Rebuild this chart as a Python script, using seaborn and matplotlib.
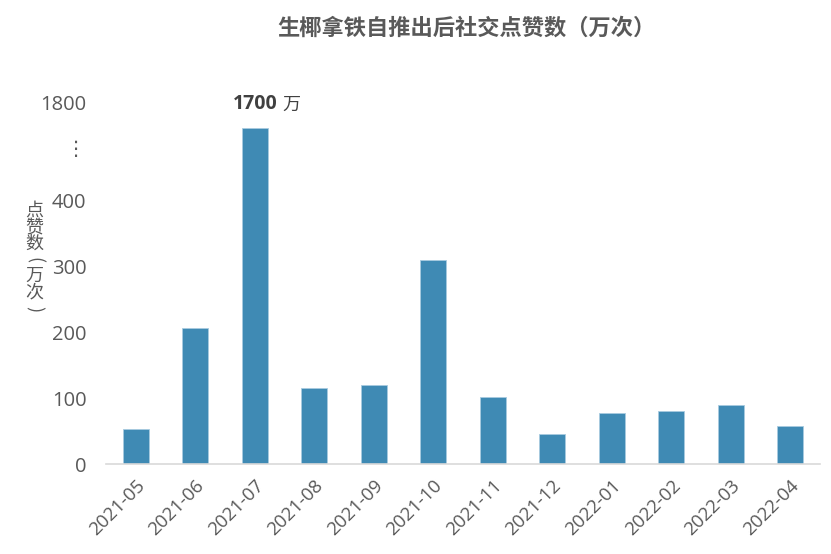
import numpy as np
import pandas as pd
import matplotlib
matplotlib.use("Agg")
import matplotlib.pyplot as plt
import seaborn as sns

months = ["2021-05", "2021-06", "2021-07", "2021-08", "2021-09", "2021-10",
          "2021-11", "2021-12", "2022-01", "2022-02", "2022-03", "2022-04"]
likes = [53, 206, 1700, 115, 120, 309, 101, 45, 77, 80, 89, 58]
peak_label = "1700"

y_ticks = [0, 100, 200, 300, 400, 1354, 1800]
y_ticklabels = ["0", "100", "200", "300", "400", "⋮", "1800"]
ylabel_chars = ["点", "赞", "数", "(", "万", "次", ")"]

# broken axis: 0-400 linear, above that compressed
brk_data = [0, 400, 1700, 1800]
brk_disp = [0, 400, 509, 547]


def fwd(v):
    return np.interp(v, brk_data, brk_disp)


def inv(v):
    return np.interp(v, brk_disp, brk_data)


df = pd.DataFrame({"month": months, "likes": likes})

sns.set_theme(style="white")
plt.rcParams["font.family"] = ["Open Sans", "Noto Sans CJK SC", "DejaVu Sans"]
cjk = ["Noto Sans CJK SC", "DejaVu Sans"]

fig = plt.figure(figsize=(8.31, 5.54), dpi=100)
ax = fig.add_axes([106 / 831, 1 - 464 / 554, 714 / 831, 361 / 554])

sns.barplot(data=df, x="month", y="likes", color="#3F8AB4", saturation=1,
            width=0.44, edgecolor="#a8cbe0", linewidth=0.6, ax=ax)

ax.set_yscale("function", functions=(fwd, inv))
ax.set_ylim(0, 1800)
ax.set_xlim(-0.5, len(months) - 0.5)
ax.set_yticks(y_ticks)
ax.set_yticklabels(y_ticklabels)

for s in ["top", "right", "left"]:
    ax.spines[s].set_visible(False)
ax.spines["bottom"].set_color("#d9d9d9")
ax.spines["bottom"].set_linewidth(1.2)

ax.tick_params(axis="y", length=0, pad=14, labelsize=14.5, labelcolor="#595959")
ax.tick_params(axis="x", length=0, pad=9, labelsize=13.5, labelcolor="#595959")
plt.setp(ax.get_xticklabels(), rotation=45, ha="right", rotation_mode="anchor")

ax.set_xlabel("")
ax.set_ylabel("")

# vertical y label, one character per row (brackets turned for vertical writing)
for i, ch in enumerate(ylabel_chars):
    rot = -90 if ch in "()" else 0
    fig.text(34 / 831, 1 - (211 + i * 16.3) / 554, ch, ha="center", va="center",
             fontsize=13, color="#595959", family=cjk, rotation=rot,
             rotation_mode="anchor")

# peak annotation
peak_i = int(np.argmax(likes))
ax.annotate(peak_label, xy=(peak_i, likes[peak_i]), xytext=(0, 10),
            textcoords="offset points", ha="center", va="bottom",
            fontsize=14, fontweight="bold", color="#404040")
ax.annotate("万", xy=(peak_i, likes[peak_i]), xytext=(20, 10),
            textcoords="offset points", ha="left", va="bottom",
            fontsize=13, color="#404040", family=cjk)

fig.text(466 / 831, 1 - 28 / 554, "生椰拿铁自推出后社交点赞数（万次）",
         ha="center", va="center", fontsize=16, fontweight="bold",
         color="#595959", family=cjk)

fig.savefig("out.png", dpi=100)
